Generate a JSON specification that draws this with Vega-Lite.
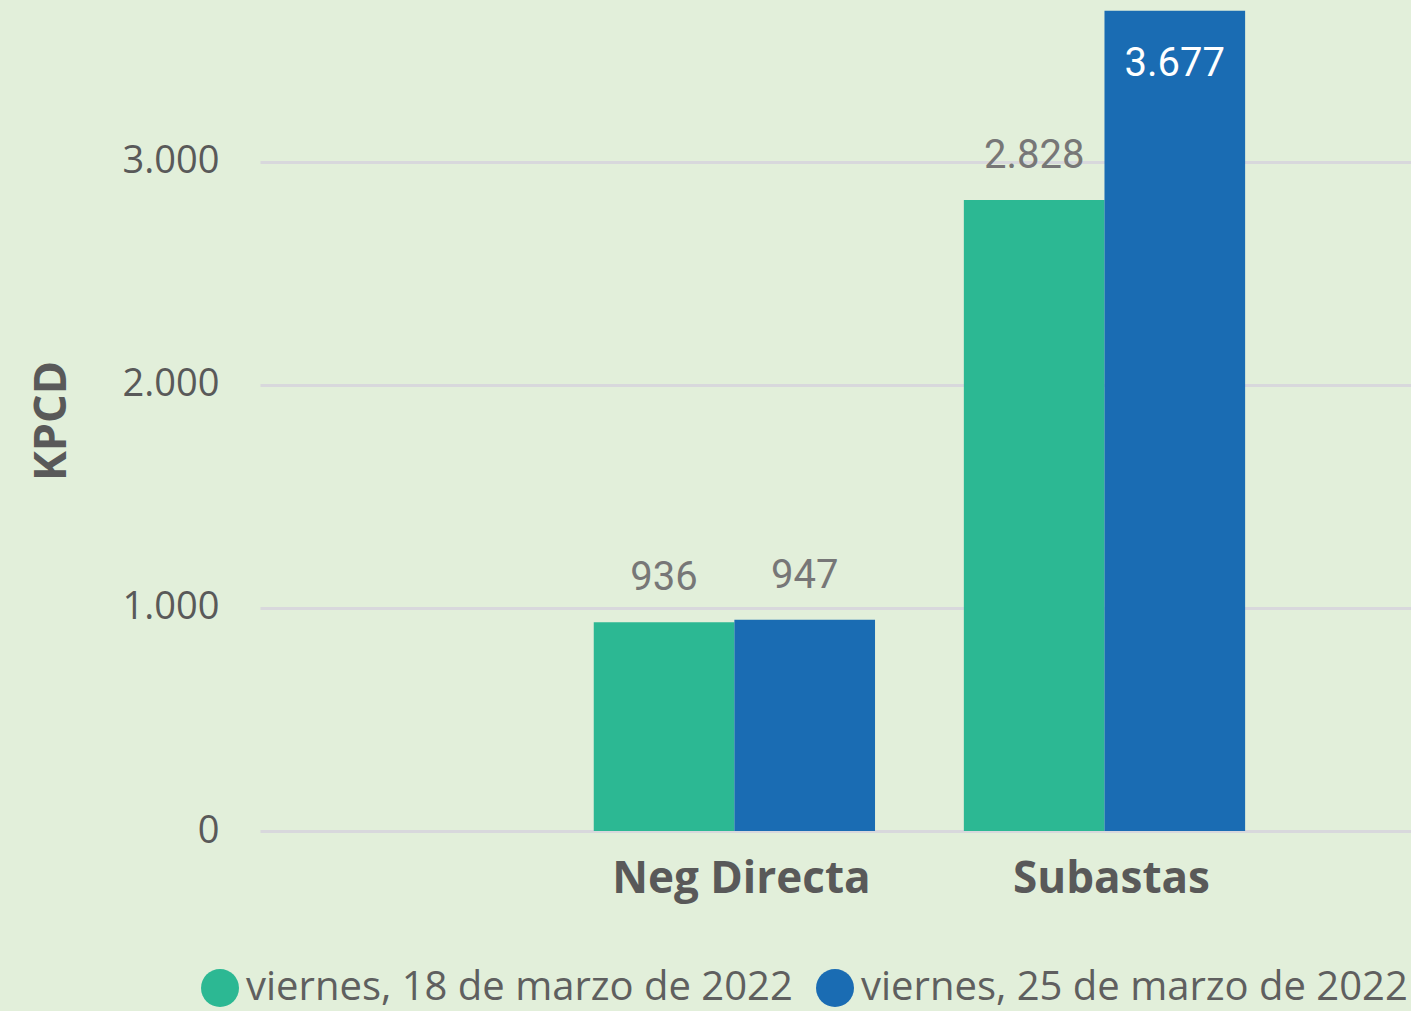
{
  "$schema": "https://vega.github.io/schema/vega-lite/v6.json",
  "width": 1151,
  "height": 821,
  "autosize": {"type": "none"},
  "padding": {"left": 260, "top": 10, "right": 0, "bottom": 180},
  "background": "#E2EFDA",
  "config": {
    "view": {"stroke": null},
    "locale": {"number": {"decimal": ",", "thousands": ".", "grouping": [3], "currency": ["", " €"]}},
    "font": "Open Sans"
  },
  "data": {
    "values": [
      {"categoria": "Neg Directa", "fecha": "viernes, 18 de marzo de 2022", "valor": 936},
      {"categoria": "Neg Directa", "fecha": "viernes, 25 de marzo de 2022", "valor": 947},
      {"categoria": "Subastas", "fecha": "viernes, 18 de marzo de 2022", "valor": 2828},
      {"categoria": "Subastas", "fecha": "viernes, 25 de marzo de 2022", "valor": 3677}
    ]
  },
  "encoding": {
    "x": {
      "field": "categoria",
      "type": "nominal",
      "sort": ["Neg Directa", "Subastas"],
      "scale": {"paddingInner": 0.24, "paddingOuter": 0.675, "align": 0.668},
      "axis": {
        "title": null,
        "labelAngle": 0,
        "labelFont": "Open Sans",
        "labelFontWeight": "bold",
        "labelFontSize": 44,
        "labelColor": "#595959",
        "labelPadding": 26,
        "labelOffset": 7,
        "labelLimit": 1000,
        "domain": false,
        "ticks": false,
        "grid": false
      }
    },
    "xOffset": {
      "field": "fecha",
      "type": "nominal",
      "scale": {"paddingInner": 0, "paddingOuter": 0}
    },
    "y": {
      "field": "valor",
      "type": "quantitative",
      "scale": {"domain": [0, 3680], "nice": false},
      "axis": {
        "title": "KPCD",
        "titleFont": "Open Sans",
        "titleFontSize": 45,
        "titleFontWeight": "bold",
        "titleColor": "#595959",
        "titlePadding": 48,
        "values": [0, 1000, 2000, 3000],
        "format": ",.0f",
        "labelFont": "Open Sans",
        "labelFontSize": 38,
        "labelColor": "#595959",
        "labelPadding": 41,
        "domain": false,
        "ticks": false,
        "grid": true,
        "gridColor": "#D8D8DC",
        "gridWidth": 3
      }
    }
  },
  "layer": [
    {
      "mark": {"type": "bar"},
      "encoding": {
        "color": {
          "field": "fecha",
          "type": "nominal",
          "scale": {
            "domain": ["viernes, 18 de marzo de 2022", "viernes, 25 de marzo de 2022"],
            "range": ["#2CB893", "#1A6CB3"]
          },
          "legend": {
            "title": null,
            "orient": "none",
            "direction": "horizontal",
            "legendX": -60,
            "legendY": 958,
            "symbolType": "circle",
            "symbolSize": 1444,
            "symbolStrokeWidth": 0,
            "symbolOpacity": 1,
            "labelFont": "Open Sans",
            "labelFontSize": 40,
            "labelColor": "#5F5F5F",
            "labelOffset": 6,
            "columnPadding": 22,
            "labelLimit": 1000
          }
        }
      }
    },
    {
      "transform": [{"filter": "datum.valor < 3500"}],
      "mark": {"type": "text", "baseline": "alphabetic", "dy": -32, "font": "Roboto", "fontSize": 40, "color": "#777777"},
      "encoding": {
        "text": {"field": "valor", "type": "quantitative", "format": ",.0f"}
      }
    },
    {
      "transform": [{"filter": "datum.valor >= 3500"}],
      "mark": {"type": "text", "baseline": "alphabetic", "dy": 65, "font": "Roboto", "fontSize": 40, "color": "#FFFFFF"},
      "encoding": {
        "text": {"field": "valor", "type": "quantitative", "format": ",.0f"}
      }
    }
  ]
}
